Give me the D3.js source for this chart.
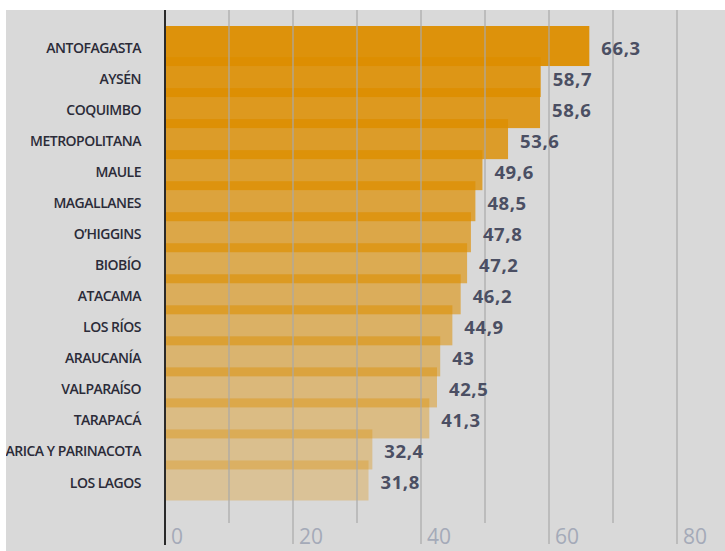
<!DOCTYPE html>
<html>
<head>
<meta charset="utf-8">
<script src="https://cdn.jsdelivr.net/npm/d3@7"></script>
<style>
  html, body { margin: 0; padding: 0; background: #ffffff; }
  svg { display: block; }
</style>
</head>
<body>
<div id="chart"></div>
<script>
const categories = ["ANTOFAGASTA","AYSÉN","COQUIMBO","METROPOLITANA","MAULE","MAGALLANES","O’HIGGINS","BIOBÍO","ATACAMA","LOS RÍOS","ARAUCANÍA","VALPARAÍSO","TARAPACÁ","ARICA Y PARINACOTA","LOS LAGOS"];
const values = [66.3, 58.7, 58.6, 53.6, 49.6, 48.5, 47.8, 47.2, 46.2, 44.9, 43, 42.5, 41.3, 32.4, 31.8];
const tickLabels = [0, 20, 40, 60, 80];
const gridValues = [10, 20, 30, 40, 50, 60, 70, 80];

const W = 725, H = 551;
const svg = d3.select("#chart").append("svg").attr("width", W).attr("height", H);

const panel = { x: 6, y: 10, w: W - 6, h: H - 10 };
svg.append("defs").append("clipPath").attr("id", "clip")
  .append("rect").attr("x", panel.x).attr("y", panel.y).attr("width", panel.w).attr("height", panel.h);

const g = svg.append("g").attr("clip-path", "url(#clip)");
g.append("rect").attr("x", panel.x).attr("y", panel.y).attr("width", panel.w).attr("height", panel.h).attr("fill", "#d9d9d9");

const x = d3.scaleLinear().domain([0, 80]).range([165, 677]);
const y = d3.scaleBand().domain(categories).range([30.5, 496]).paddingInner(0).paddingOuter(0);
const barH = y.step() * 1.29;
const alpha = d3.scaleLinear().domain([0, categories.length - 1]).range([0.95, 0.3]);

const data = categories.map((c, i) => ({ c, v: values[i], i }));

// bars
g.selectAll("rect.bar").data(data).join("rect")
  .attr("class", "bar")
  .attr("x", x(0))
  .attr("y", d => y(d.c) + y.bandwidth() / 2 - barH / 2)
  .attr("width", d => x(d.v) - x(0))
  .attr("height", barH)
  .attr("fill", "#dd8e00")
  .attr("fill-opacity", d => alpha(d.i));

// gridlines
const major = new Set(tickLabels);
g.selectAll("line.grid").data(gridValues).join("line")
  .attr("class", "grid")
  .attr("x1", d => x(d)).attr("x2", d => x(d))
  .attr("y1", panel.y)
  .attr("y2", d => major.has(d) ? 544 : 523)
  .attr("stroke", "#a8a8a8")
  .attr("stroke-opacity", 0.6)
  .attr("stroke-width", 2);

// zero axis
g.append("line")
  .attr("x1", x(0)).attr("x2", x(0))
  .attr("y1", panel.y).attr("y2", 545)
  .attr("stroke", "#2a2a2a").attr("stroke-width", 2);

// tick labels
g.selectAll("text.tick").data(tickLabels).join("text")
  .attr("class", "tick")
  .attr("x", d => x(d) + 6)
  .attr("y", 544)
  .attr("font-family", "'Open Sans', sans-serif")
  .attr("font-size", 21)
  .attr("fill", "#a4aab8")
  .text(d => d);

// category labels
g.selectAll("text.cat").data(data).join("text")
  .attr("class", "cat")
  .attr("x", 141)
  .attr("y", d => y(d.c) + y.bandwidth() / 2 + 2)
  .attr("dy", "0.36em")
  .attr("text-anchor", "end")
  .attr("font-family", "'Open Sans', sans-serif")
  .attr("font-weight", 600)
  .attr("font-size", 14)
  .attr("letter-spacing", -0.5)
  .attr("fill", "#2b2b38")
  .text(d => d.c);

// value labels
g.selectAll("text.val").data(data).join("text")
  .attr("class", "val")
  .attr("x", d => x(d.v) + 12)
  .attr("y", d => y(d.c) + y.bandwidth() / 2 + 2)
  .attr("dy", "0.36em")
  .attr("font-family", "'Open Sans', sans-serif")
  .attr("font-weight", 700)
  .attr("font-size", 18.5)
  .attr("letter-spacing", 0.6)
  .attr("fill", "#4b4f63")
  .text(d => String(d.v).replace(".", ","));
</script>
</body>
</html>
